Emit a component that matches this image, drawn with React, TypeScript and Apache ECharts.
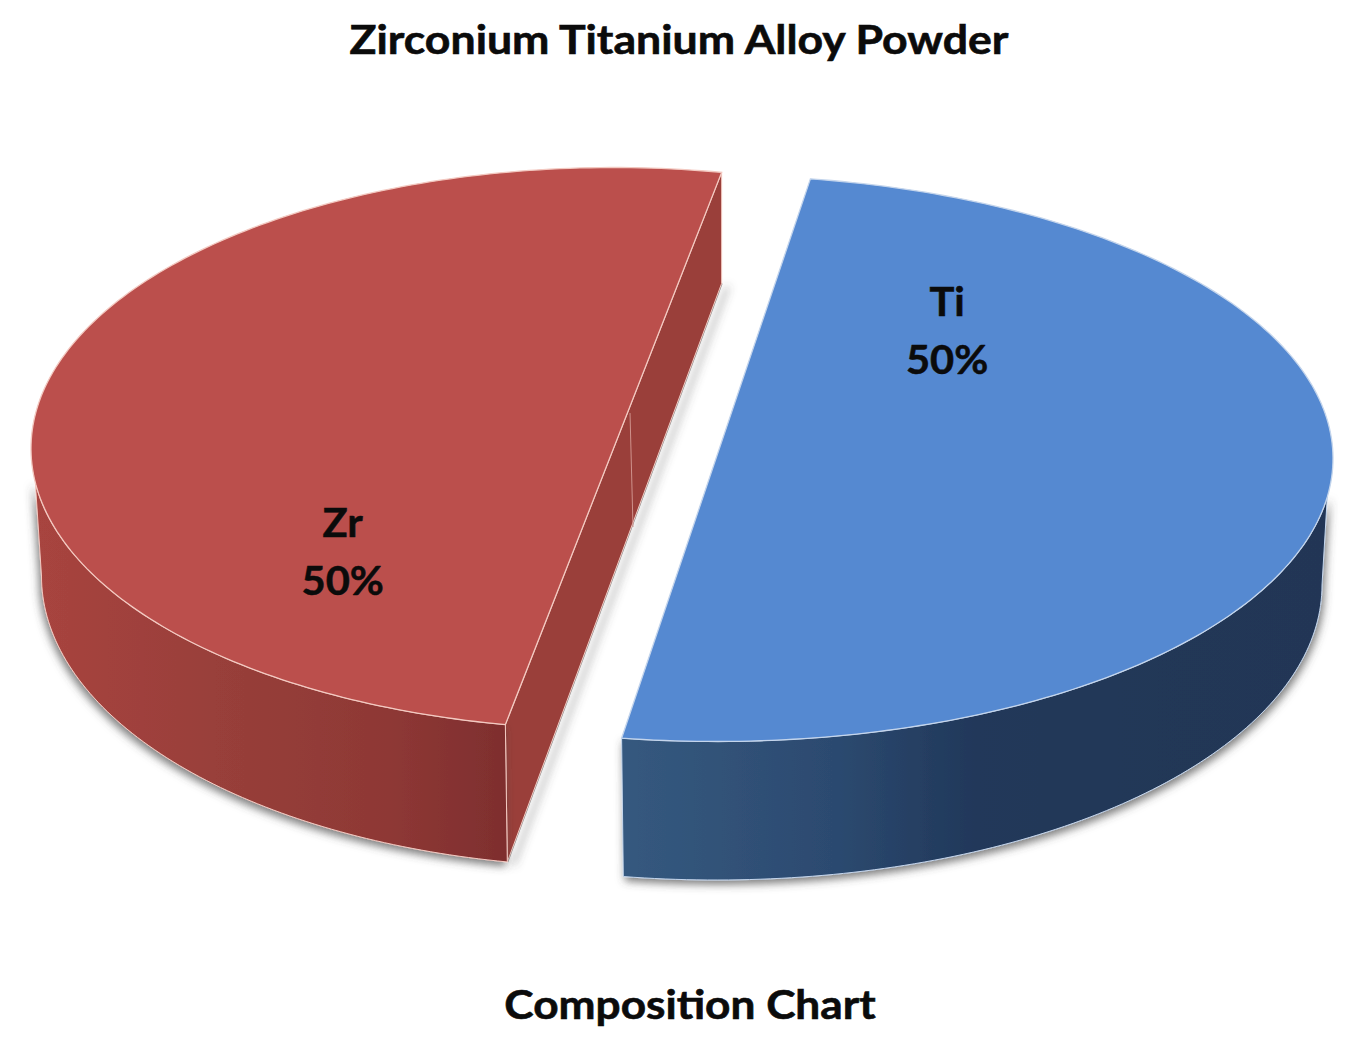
import React, { useEffect, useRef } from "react";
import * as echarts from "echarts";

const titleText = "Zirconium Titanium Alloy Powder";
const subtitleText = "Composition Chart";
const names = ["Ti", "Zr"];
const values = [50, 50];
const total = values.reduce((a, b) => a + b, 0);

const geometry = [
  {
    start: -81.2, cx: 716, cy: 458.5, a: 617, b: 283,
    bx: 716, by: 585, ba: 606, bb: 295,
    wallTop: [7.8, 98.8], wallBottom: [0, 98.8], labelT: -50.6, labelR: 0.59,
    top: "#5589d1", edge: "#c4d5ec",
    wallStops: [[0, "#35597f"], [0.3, "#2c4a70"], [0.5, "#21385a"], [1, "#203655"]],
    shadow: { shadowBlur: 9, shadowOffsetX: 2, shadowOffsetY: 4, shadowColor: "rgba(70,70,70,0.7)" },
  },
  {
    start: 100.7, cx: 613.5, cy: 448.5, a: 582.5, b: 281,
    bx: 613.5, by: 576, ba: 572, bb: 291,
    wallTop: [100.7, 173], wallBottom: [100.7, 180], labelT: 142, labelR: 0.59,
    top: "#bb4f4c", edge: "#f3c9c1",
    wallStops: [[0, "#a8443f"], [0.45, "#963e39"], [0.75, "#8e3835"], [1, "#7e2e2e"]],
    shadow: { shadowBlur: 9, shadowOffsetX: -2, shadowOffsetY: 4, shadowColor: "rgba(70,70,70,0.7)" },
  },
];

const rad = (d: number) => (d * Math.PI) / 180;
const arc = (cx: number, cy: number, a: number, b: number, t0: number, t1: number) => {
  const pts: number[][] = [];
  const n = Math.max(8, Math.ceil(Math.abs(t1 - t0)));
  for (let i = 0; i <= n; i++) {
    const t = rad(t0 + ((t1 - t0) * i) / n);
    pts.push([cx + a * Math.cos(t), cy + b * Math.sin(t)]);
  }
  return pts;
};

const INNER_SHADOW = { shadowBlur: 8, shadowOffsetX: 6, shadowOffsetY: 3, shadowColor: "rgba(70,70,70,0.8)" };

function renderSlice(params: any, api: any) {
  const i = params.dataIndex;
  const g = geometry[i];
  const sweep = (api.value(0) / total) * 360;
  const end = g.start + sweep;
  const topArc = arc(g.cx, g.cy, g.a, g.b, g.start, end);
  const wallTop = arc(g.cx, g.cy, g.a, g.b, g.wallTop[0], g.wallTop[1]);
  const wallBottom = arc(g.bx, g.by, g.ba, g.bb, g.wallBottom[0], g.wallBottom[1]);
  const outer = [...wallTop, ...wallBottom.slice().reverse()];
  const grad = new echarts.graphic.LinearGradient(
    0, 0, 1, 0,
    g.wallStops.map(([offset, color]) => ({ offset: offset as number, color: color as string }))
  );
  const children: any[] = [];

  if (i === 1) {
    const pStart = topArc[0];
    const pEnd = topArc[topArc.length - 1];
    const foot = [g.bx + g.ba * Math.cos(rad(g.start)), g.by + g.bb * Math.sin(rad(g.start))];
    const back = [pEnd[0], pEnd[1] + 111];
    // the cast shadow starts only at the foot of the back edge
    children.push({
      type: "line",
      shape: { x1: back[0], y1: back[1], x2: foot[0], y2: foot[1] },
      style: { stroke: "#8a8a8a", lineWidth: 2, ...INNER_SHADOW },
    });
    children.push({
      type: "polygon", shape: { points: [pEnd, pStart, foot, back] },
      style: { fill: "#9a3f3a", stroke: g.edge, lineWidth: 1 },
    });
    children.push({
      type: "line",
      shape: { x1: 630, y1: 413, x2: 633, y2: 527 },
      style: { stroke: "#cf928c", lineWidth: 1 },
    });
  }

  children.push({
    type: "polygon", shape: { points: outer },
    style: { fill: grad, stroke: g.edge, lineWidth: 1, ...g.shadow },
  });
  children.push({
    type: "polygon", shape: { points: topArc },
    style: { fill: g.top, stroke: g.edge, lineWidth: 1.3 },
  });

  const lt = rad(g.labelT);
  children.push({
    type: "text",
    x: g.cx + g.a * g.labelR * Math.cos(lt),
    y: g.cy + g.b * g.labelR * Math.sin(lt),
    scaleX: 1.04,
    style: {
      text: `${names[i]}\n${Math.round((api.value(0) / total) * 100)}%`,
      fill: "#0b0b0b",
      stroke: "#0b0b0b",
      lineWidth: 0.5,
      font: 'bold 40px Lato, "Open Sans", sans-serif',
      lineHeight: 58,
      align: "center",
      verticalAlign: "middle",
    },
  });
  return { type: "group", children };
}

const headingStyle = (text: string) => ({
  text,
  fill: "#0b0b0b",
  stroke: "#0b0b0b",
  lineWidth: 0.6,
  font: 'bold 40px Lato, "Open Sans", sans-serif',
  align: "center",
  verticalAlign: "middle",
});

export default function App() {
  const ref = useRef<HTMLDivElement>(null);
  useEffect(() => {
    const chart = echarts.init(ref.current!, undefined, { renderer: "svg" });
    chart.setOption({
      animation: false,
      backgroundColor: "#ffffff",
      graphic: [
        { type: "text", x: 679, y: 38, scaleX: 1.115, style: headingStyle(titleText) },
        { type: "text", x: 690, y: 1003, scaleX: 1.105, style: headingStyle(subtitleText) },
      ],
      series: [
        {
          type: "custom",
          coordinateSystem: "none",
          renderItem: renderSlice,
          data: values.map((v, i) => ({ name: names[i], value: [v] })),
          silent: true,
        },
      ],
    });
    return () => chart.dispose();
  }, []);
  return <div ref={ref} style={{ position: "fixed", left: 0, top: 0, width: 1364, height: 1044 }} />;
}
